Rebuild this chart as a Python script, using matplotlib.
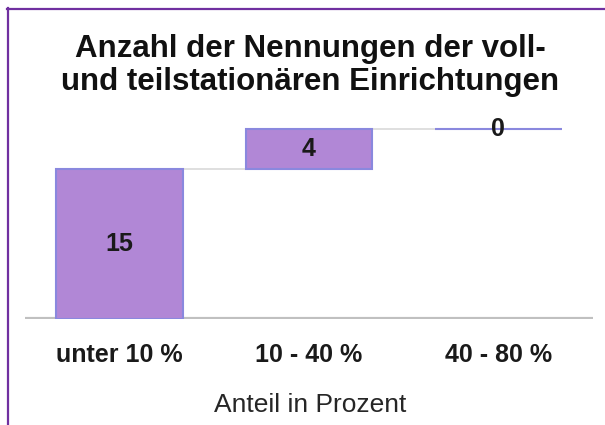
import numpy as np
import matplotlib
matplotlib.use('Agg')
import matplotlib.pyplot as plt
from matplotlib.lines import Line2D

plt.rcParams['font.family'] = ['Liberation Sans', 'DejaVu Sans']

categories = ['unter 10 %', '10 - 40 %', '40 - 80 %']
counts = [15, 4, 0]
title_lines = ['Anzahl der Nennungen der voll-', 'und teilstationären Einrichtungen']
xlabel = 'Anteil in Prozent'

W, H = 605, 425
fig = plt.figure(figsize=(W / 100, H / 100), dpi=100)
ax = fig.add_axes([25 / W, 1 - 319 / H, 568 / W, 200 / H])

x = np.arange(len(categories))
tops = np.cumsum(counts)
bottoms = tops - np.array(counts)
bw = 0.67

ax.bar(x, counts, bw, bottom=bottoms, color='#b187d6', edgecolor='#8a88de',
       linewidth=1.5, zorder=3)

# connectors between bars
for i in range(len(x) - 1):
    ax.plot([x[i] + bw / 2, x[i + 1] - bw / 2], [tops[i], tops[i]],
            color='#d9d9d9', lw=1.2, zorder=2)

# value labels
for xi, b, c in zip(x, bottoms, counts):
    ax.text(xi, b + c / 2, str(c), ha='center', va='center',
            fontsize=18, fontweight='bold', color='#1a1a1a', zorder=4)

ax.set_xlim(-0.5, 2.5)
ax.set_ylim(0, 20)
ax.axhline(0, color='#c0c0c0', lw=3, zorder=1)
for s in ax.spines.values():
    s.set_visible(False)
ax.set_yticks([])
ax.set_xticks(x)
ax.set_xticklabels(categories, fontsize=18, fontweight='bold', color='#1a1a1a',
                   va='baseline')
ax.tick_params(axis='x', length=0, pad=43 * 0.72)

fig.text(310 / W, 1 - 412 / H, xlabel, ha='center', va='baseline',
         fontsize=19, color='#262626')

for ty, line in zip([57, 90], title_lines):
    fig.text(310 / W, 1 - ty / H, line, ha='center', va='baseline',
             fontsize=22.5, fontweight='bold', color='#111111')

# frame lines at top and left
fig.add_artist(Line2D([7 / W, 1], [1 - 8.5 / H, 1 - 8.5 / H],
                      color='#7030a0', lw=1.6))
fig.add_artist(Line2D([7.5 / W, 7.5 / W], [0, 1 - 8 / H],
                      color='#7030a0', lw=1.6))

fig.savefig('out.png', dpi=100)
